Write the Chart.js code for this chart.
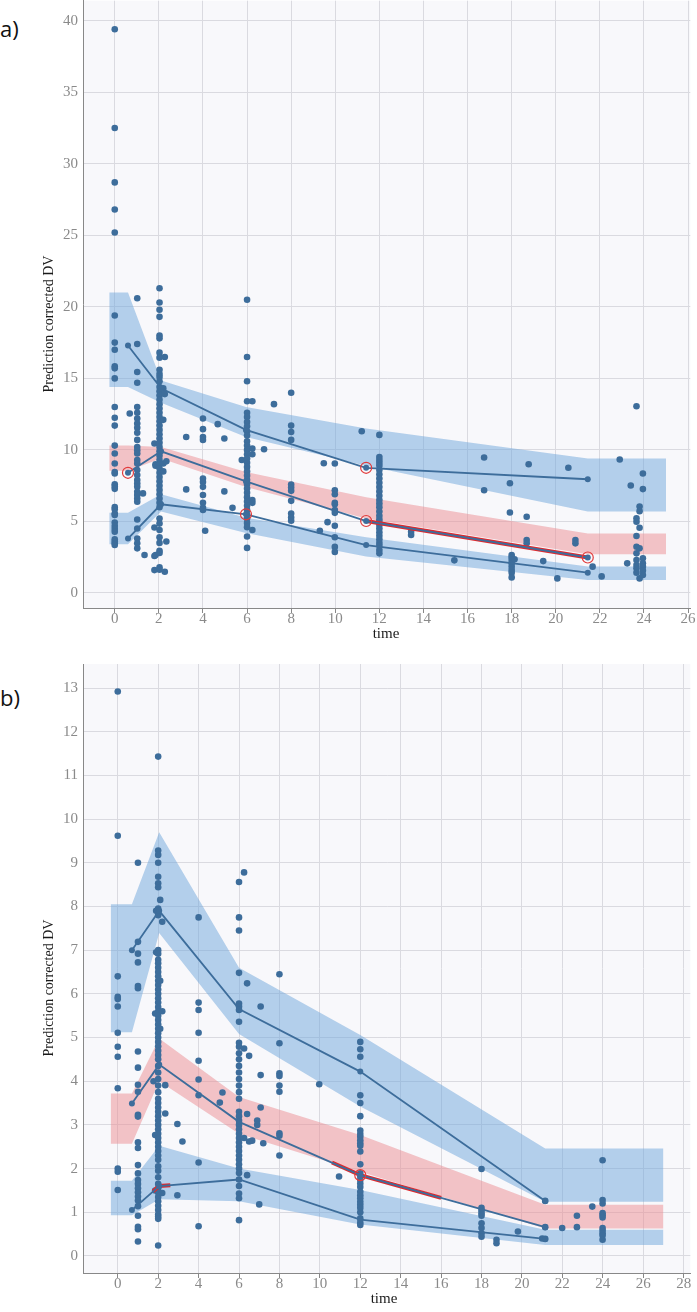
<!DOCTYPE html>
<html>
<head>
<meta charset="utf-8">
<script src="https://cdn.jsdelivr.net/npm/chart.js@4.4.1/dist/chart.umd.min.js"></script>
<style>
  body { margin: 0; background: #fff; }
  #wrap { position: relative; width: 697px; height: 1312px; overflow: hidden; }
  canvas { position: absolute; left: 0; }
  .tag { position: absolute; left: 0; font-family: 'Open Sans', sans-serif; font-size: 22px; color: #111; }
</style>
</head>
<body>
<div id="wrap">
  <div class="tag" style="top:13px">a)</div>
  <canvas id="chart-a" width="697" height="656" style="top:-6px"></canvas>
  <div class="tag" style="top:682px">b)</div>
  <canvas id="chart-b" width="697" height="662" style="top:650px"></canvas>
</div>
<script>
// ---- painel a: observações (tempo nominal -> valores) ----
const aTimes = [0, 0.68, 1.02, 1.28, 1.35, 1.8, 1.85, 2.03, 2.2, 2.27, 2.34, 3.24, 4.0, 4.1, 4.67, 4.97, 5.34, 5.76,
  6.0, 6.24, 6.77, 7.22, 8.0, 9.3, 9.48, 9.65, 9.98, 11.2, 12.0, 13.44, 15.4, 16.75, 17.92, 18.0, 18.13, 18.68, 18.77,
  19.43, 20.07, 20.57, 20.89, 21.67, 22.08, 22.9, 23.24, 23.4, 23.66, 23.8, 23.95];
const aValues = [
  [39.4, 32.5, 28.7, 26.8, 25.2, 19.4, 17.5, 17.0, 15.85, 15.7, 15.0, 13.0, 12.25, 11.7, 10.3, 9.75, 9.05, 8.45, 8.35, 7.6, 7.45, 7.28, 6.0, 5.85, 5.55, 5.45, 4.93, 4.68, 4.47, 4.28, 3.75, 3.6, 3.47, 3.35],
  [12.55],
  [20.6, 17.4, 15.45, 14.7, 13.0, 12.6, 12.2, 11.85, 11.55, 11.2, 10.7, 10.2, 9.98, 9.75, 9.3, 9.05, 8.6, 8.25, 7.9, 7.65, 7.42, 7.07, 6.85, 6.6, 6.38, 5.14, 4.51, 3.81, 3.47, 3.12],
  [6.96],
  [2.65],
  [10.45, 4.58, 2.58, 1.6],
  [9.0, 8.9, 2.65],
  [21.3, 20.3, 19.8, 19.3, 18.0, 17.8, 16.8, 16.45, 15.6, 15.3, 15.1, 14.8, 14.4, 14.1, 13.8, 13.5, 13.2, 12.9, 12.6, 12.3, 12.0, 11.7, 11.4, 11.1, 10.8, 10.5, 10.2, 9.9, 9.6, 9.3, 9.0, 8.7, 8.4, 8.1, 7.8, 7.5, 7.2, 6.9, 6.6, 6.3, 6.0, 5.2, 4.85, 4.4, 3.9, 3.5, 2.95, 2.8, 1.8, 1.62],
  [14.3, 12.1, 9.05, 8.5],
  [16.5, 13.9, 1.48],
  [3.6, 9.2],
  [10.9, 7.24],
  [12.2, 11.45, 10.9, 10.7, 8.0, 7.75, 7.42, 6.85, 6.3, 5.95, 5.8],
  [4.35],
  [11.8],
  [10.8, 7.1],
  [5.95],
  [9.3],
  [20.5, 16.5, 14.8, 13.4, 12.6, 12.3, 11.95, 11.65, 11.3, 11.0, 10.6, 10.3, 10.0, 9.7, 9.4, 9.1, 8.8, 8.5, 8.2, 7.9, 7.6, 7.3, 7.0, 6.7, 6.4, 6.1, 5.8, 5.5, 5.2, 4.9, 4.6, 3.95, 3.15],
  [13.4, 10.1, 9.7, 6.5, 6.3, 4.4],
  [10.05],
  [13.2],
  [14.0, 11.7, 11.25, 10.7, 7.58, 7.37, 7.14, 6.44, 5.56, 5.28, 5.05],
  [4.35],
  [9.07],
  [4.95],
  [9.05, 7.18, 6.9, 6.3, 6.2, 5.8, 5.6, 4.7, 3.9, 3.22, 2.87],
  [11.3],
  [11.05, 9.5, 9.3, 9.1, 8.9, 8.6, 8.3, 8.0, 7.7, 7.4, 7.1, 6.8, 6.5, 6.25, 6.0, 5.7, 5.4, 5.15, 4.95, 4.75, 4.5, 4.25, 4.0, 3.75, 3.5, 3.3, 3.0, 2.77],
  [4.28, 4.05],
  [2.28],
  [9.47, 7.18],
  [7.67, 5.63],
  [2.65, 2.49, 2.3, 2.07, 1.84, 1.61, 1.42, 1.09],
  [2.35],
  [5.33, 3.7, 3.47],
  [9.0],
  [2.23],
  [1.02],
  [8.75],
  [3.7, 3.47],
  [1.84],
  [1.16],
  [9.33],
  [2.07],
  [7.51],
  [13.05, 5.22, 4.98, 3.98, 3.23, 2.77, 2.31, 1.96, 1.72, 1.42],
  [6.05, 5.72, 4.56, 3.12, 1.02],
  [8.35, 7.26, 2.42, 2.07, 1.84, 1.56, 1.26]
];
// faixas simuladas (IC dos percentis) e percentis observados
const aBinX = [-0.25, 0.6, 2.1, 5.95, 11.4, 21.45, 25];
const aHiTop = [21.0, 21.0, 14.85, 13.0, 11.5, 9.4, 9.4];
const aHiBot = [14.4, 14.4, 13.3, 10.9, 8.9, 5.7, 5.7];
const aMedTop = [10.3, 10.3, 10.2, 8.45, 6.7, 4.15, 4.15];
const aMedBot = [8.55, 8.55, 9.4, 7.4, 5.2, 2.7, 2.7];
const aLoTop = [5.6, 5.6, 6.9, 5.25, 3.9, 1.85, 1.85];
const aLoBot = [3.4, 3.4, 5.7, 4.2, 2.55, 0.9, 0.9];
const aLineX = [0.6, 2.1, 5.95, 11.4, 21.45];
const aObsHi = [17.3, 14.3, 11.4, 8.75, 7.95];
const aObsMed = [8.4, 9.9, 7.8, 5.03, 2.48];
const aObsLo = [3.8, 6.2, 5.5, 3.35, 1.42];
const aFlagX = [0.6, 5.95, 11.4, 11.4, 21.45];
const aFlagY = [8.4, 5.5, 8.75, 5.03, 2.48];
const aRedX = [11.4, 21.45];
const aRedY = [5.03, 2.48];

// ---- painel b ----
const bTimes = [0, 1.0, 1.77, 1.85, 1.9, 2.0, 2.1, 2.2, 2.35, 2.95, 3.2, 4.0, 5.05, 5.18, 6.0, 6.25, 6.4, 6.5, 6.65,
  6.9, 7.0, 7.07, 7.2, 8.0, 9.97, 10.95, 12.0, 18.0, 18.74, 19.8, 21.0, 21.15, 21.99, 22.72, 23.48, 23.99];
const bValues = [
  [12.92, 9.62, 6.4, 5.93, 5.88, 5.71, 5.11, 4.79, 4.56, 3.84, 2.0, 1.93, 1.51],
  [9.0, 7.19, 6.92, 6.72, 6.18, 6.13, 4.68, 4.31, 3.92, 3.76, 3.23, 3.19, 2.6, 2.47, 2.08, 1.89, 1.74, 1.65, 1.55, 1.46, 1.36, 1.27, 1.14, 0.92, 0.67, 0.61, 0.33],
  [4.0],
  [5.55, 2.77, 1.5],
  [7.9, 6.95],
  [11.43, 9.28, 9.18, 9.0, 8.68, 8.53, 8.44, 7.95, 7.8, 7.0, 6.92, 6.78, 6.7, 6.6, 6.5, 6.4, 6.3, 6.2, 6.1, 6.0, 5.9, 5.8, 5.7, 5.6, 5.5, 5.4, 5.3, 5.2, 5.1, 5.0, 4.9, 4.8, 4.7, 4.6, 4.5, 4.35, 4.2, 4.05, 3.9, 3.75, 3.6, 3.5, 3.4, 3.3, 3.2, 3.1, 3.0, 2.9, 2.8, 2.7, 2.6, 2.5, 2.4, 2.3, 2.2, 2.05, 1.95, 1.8, 1.65, 1.55, 1.45, 1.35, 1.25, 1.15, 1.05, 0.95, 0.9, 0.85, 0.24],
  [8.15, 6.3, 5.2],
  [7.65, 5.6, 1.44],
  [3.26, 3.91],
  [3.02, 1.39],
  [2.62],
  [7.75, 5.8, 5.63, 5.11, 4.47, 4.04, 3.68, 2.14, 0.68],
  [3.51],
  [3.74],
  [8.56, 7.75, 7.45, 6.48, 5.78, 5.71, 5.63, 5.36, 4.88, 4.79, 4.64, 4.5, 4.35, 4.2, 4.05, 3.9, 3.75, 3.6, 3.3, 3.2, 3.1, 3.0, 2.9, 2.8, 2.7, 2.6, 2.5, 2.4, 2.3, 2.2, 2.1, 2.0, 1.9, 1.75, 1.6, 1.43, 1.32, 0.82],
  [8.78, 4.75, 2.7],
  [6.24, 3.25, 1.85],
  [4.58, 2.62],
  [2.64],
  [3.1, 3.0],
  [1.18],
  [5.71, 4.14, 3.4],
  [2.58],
  [6.45, 4.87, 4.18, 4.12, 3.9, 3.76, 2.81, 2.75, 2.3],
  [3.93],
  [1.82],
  [4.9, 4.73, 4.56, 3.68, 3.5, 3.2, 2.87, 2.79, 2.73, 2.65, 2.58, 2.52, 2.39, 2.1, 1.89, 1.82, 1.74, 1.66, 1.58, 1.47, 1.39, 1.32, 1.24, 1.17, 1.1, 1.0, 0.86, 0.76, 0.71],
  [1.99, 1.1, 1.04, 0.98, 0.92, 0.75, 0.64, 0.52, 0.44],
  [0.37, 0.29],
  [0.56],
  [0.4],
  [1.26, 0.66, 0.39],
  [0.64],
  [0.92, 0.66],
  [1.13],
  [2.19, 1.28, 1.2, 0.98, 0.93, 0.88, 0.64, 0.58, 0.52, 0.47, 0.37]
];
const bBinX = [-0.35, 0.7, 2.05, 6.0, 12.0, 21.15, 27.0];
const bHiTop = [8.05, 8.05, 9.7, 6.6, 5.06, 2.46, 2.46];
const bHiBot = [5.12, 5.12, 7.39, 5.08, 3.42, 1.24, 1.24];
const bMedTop = [3.72, 3.72, 4.98, 3.64, 2.77, 1.17, 1.17];
const bMedBot = [2.57, 2.57, 4.0, 2.8, 1.93, 0.63, 0.63];
const bLoTop = [1.72, 1.72, 2.52, 2.0, 1.51, 0.6, 0.6];
const bLoBot = [0.93, 0.93, 1.3, 1.25, 0.72, 0.25, 0.25];
const bLineX = [0.7, 2.05, 6.0, 12.0, 21.15];
const bObsHi = [7.0, 7.9, 5.65, 4.22, 1.26];
const bObsMed = [3.49, 4.38, 3.07, 1.85, 0.66];
const bObsLo = [1.05, 1.6, 1.75, 0.83, 0.39];
const bFlagX = [12.0];
const bFlagY = [1.85];
const bRedX = [10.6, 12.0, 16.0];
const bRedY = [2.14, 1.85, 1.33];
const bRed2X = [1.75, 2.05, 2.6];
const bRed2Y = [1.48, 1.6, 1.62];

const BLUE = '#3d6d9b';
const BAND_BLUE = 'rgba(110,165,220,0.5)';
const BAND_RED = 'rgba(235,140,145,0.5)';
const GRID = '#dadae0';
const SERIF = '"Liberation Serif", serif';

// Helpers
function colPoints(times, values) {
  const pts = [];
  times.forEach((t, i) => values[i].forEach(v => pts.push({ x: t, y: v })));
  return pts;
}
const xy = (xs, ys) => xs.map((x, i) => ({ x, y: ys[i] }));

function band(xs, top, bot, color) {
  return [
    { type: 'line', data: xy(xs, top), borderColor: 'transparent', borderWidth: 0, pointRadius: 0,
      fill: '+1', backgroundColor: color, order: 10 },
    { type: 'line', data: xy(xs, bot), borderColor: 'transparent', borderWidth: 0, pointRadius: 0,
      fill: false, order: 10 }
  ];
}
function obsLine(xs, ys) {
  return { type: 'line', data: xy(xs, ys), borderColor: BLUE, borderWidth: 1.8, pointRadius: 3,
    pointBackgroundColor: BLUE, pointBorderWidth: 0, fill: false, order: 2 };
}
function redLine(xs, ys) {
  return { type: 'line', data: xy(xs, ys), borderColor: '#e0282c', borderWidth: 4, pointRadius: 0,
    fill: false, order: 2.5 };
}
function flags(xs, ys) {
  return { type: 'scatter', data: xy(xs, ys), pointRadius: 5.5, backgroundColor: 'rgba(0,0,0,0)',
    borderColor: '#e23b3b', borderWidth: 1.2, order: 1 };
}
function dots(times, values) {
  return { type: 'scatter', data: colPoints(times, values), pointRadius: 3.3, backgroundColor: BLUE,
    borderWidth: 0, order: 3 };
}

// fundo da área do gráfico e títulos dos eixos
const plotFrame = {
  id: 'plotFrame',
  beforeDraw(chart) {
    const { ctx, chartArea: a } = chart;
    ctx.save();
    ctx.fillStyle = '#f8f8fb';
    ctx.fillRect(a.left, a.top, a.right - a.left, a.bottom - a.top);
    ctx.restore();
  },
  afterDraw(chart, args, opts) {
    const ctx = chart.ctx;
    ctx.save();
    ctx.fillStyle = '#1a1a1a';
    ctx.textAlign = 'center';
    ctx.textBaseline = 'middle';
    ctx.font = '15px ' + SERIF;
    ctx.fillText('time', opts.xTitle[0], opts.xTitle[1]);
    ctx.translate(opts.yTitle[0], opts.yTitle[1]);
    ctx.rotate(-Math.PI / 2);
    ctx.font = '14px ' + SERIF;
    ctx.fillText('Prediction corrected DV', 0, 0);
    ctx.restore();
  }
};

function makeChart(id, c) {
  return new Chart(document.getElementById(id), {
    type: 'scatter',
    data: { datasets: c.datasets },
    options: {
      responsive: false,
      animation: false,
      layout: { padding: c.padding },
      plugins: {
        legend: { display: false },
        tooltip: { enabled: false },
        plotFrame: { xTitle: c.xTitle, yTitle: c.yTitle }
      },
      scales: {
        x: {
          type: 'linear', min: c.xMin, max: c.xMax,
          afterFit: s => { s.height = c.xHeight; s.paddingLeft = 0; s.paddingRight = 0; },
          ticks: { stepSize: 2, includeBounds: false, padding: -3, color: '#8a8a8a', font: { family: SERIF, size: 15 } },
          grid: { color: GRID, tickColor: '#888', tickLength: 5 },
          border: { color: '#888', width: 1 }
        },
        y: {
          type: 'linear', min: c.yMin, max: c.yMax,
          afterFit: s => { s.width = 83; s.paddingTop = 0; s.paddingBottom = 0; },
          ticks: { stepSize: c.yStep, includeBounds: false, padding: 5, color: '#8a8a8a', font: { family: SERIF, size: 15 } },
          grid: { color: GRID, drawTicks: false },
          border: { color: '#888', width: 1 }
        }
      }
    },
    plugins: [plotFrame]
  });
}

// canvas a começa 6px acima da página: a área útil fica colada no topo
makeChart('chart-a', {
  datasets: [
    flags(aFlagX, aFlagY),
    obsLine(aLineX, aObsHi), obsLine(aLineX, aObsMed), obsLine(aLineX, aObsLo),
    redLine(aRedX, aRedY),
    dots(aTimes, aValues),
    ...band(aBinX, aHiTop, aHiBot, BAND_BLUE),
    ...band(aBinX, aMedTop, aMedBot, BAND_RED),
    ...band(aBinX, aLoTop, aLoBot, BAND_BLUE)
  ],
  padding: { top: 6, right: 4, bottom: 0, left: 0 },
  xMin: -1.44, xMax: 26.1, xHeight: 42,
  yMin: -1.05, yMax: 41.4, yStep: 5,
  xTitle: [386, 640], yTitle: [49, 330]
});

makeChart('chart-b', {
  datasets: [
    flags(bFlagX, bFlagY),
    obsLine(bLineX, bObsHi), obsLine(bLineX, bObsMed), obsLine(bLineX, bObsLo),
    redLine(bRedX, bRedY), redLine(bRed2X, bRed2Y),
    dots(bTimes, bValues),
    ...band(bBinX, bHiTop, bHiBot, BAND_BLUE),
    ...band(bBinX, bMedTop, bMedBot, BAND_RED),
    ...band(bBinX, bLoTop, bLoBot, BAND_BLUE)
  ],
  padding: { top: 14, right: 3, bottom: 0, left: 0 },
  xMin: -1.72, xMax: 28.33, xHeight: 39,
  yMin: -0.39, yMax: 13.55, yStep: 1,
  xTitle: [384, 649], yTitle: [49, 338]
});
</script>
</body>
</html>
